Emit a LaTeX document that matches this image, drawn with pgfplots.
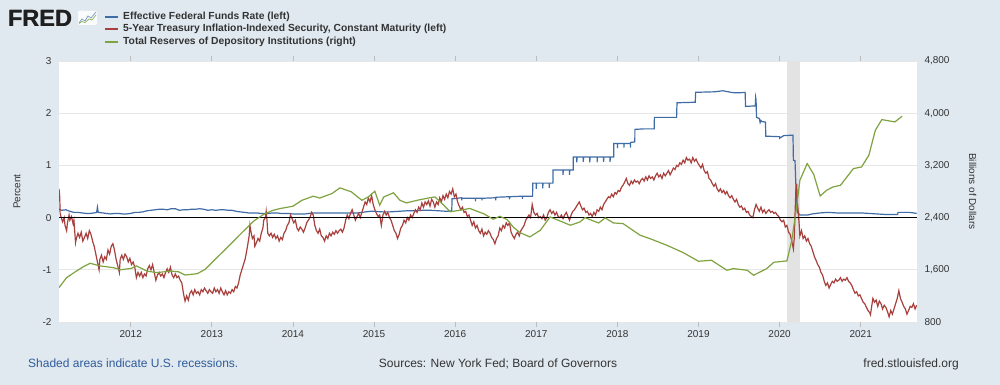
\documentclass[border=0pt]{standalone}
\usepackage{fontspec}
\setmainfont{Liberation Sans}
\usepackage{pgfplots}
\pgfplotsset{compat=1.18}
\definecolor{bg}{HTML}{E1E9F0}
\definecolor{fblue}{HTML}{3F6CA5}
\definecolor{tipsred}{HTML}{A8403D}
\definecolor{fgreen}{HTML}{7FA33F}
\definecolor{gridc}{HTML}{E6E6E6}
\definecolor{txt}{HTML}{333333}
\definecolor{linkc}{HTML}{2F5C9A}
\definecolor{recc}{HTML}{E3E3E3}
\begin{document}
\begin{tikzpicture}[x=1pt,y=1pt]
\useasboundingbox (0,0) rectangle (1000,385);
\fill[bg] (0,0) rectangle (1000,385);
% FRED logo
\foreach \dx in {0,0.5}{
\node[anchor=base west, inner sep=0pt, font=\bfseries\fontsize{23.5}{24}\selectfont, text=black!88] at (7.6+\dx,358.5) {FRED};
}
\fill[white!80!bg, rounded corners=1pt] (78,360) rectangle (97,374);
\draw[fblue!70, line width=0.7pt] (79,362) -- (82,366) -- (85,364) -- (88,369) -- (91,367) -- (96,373);
\draw[fgreen!85, line width=0.7pt] (79,361.5) -- (82,363.5) -- (85,362.5) -- (89,366) -- (92,365) -- (96,370);
% legend
\fill[fblue] (105,367) rectangle (118,369);
\fill[tipsred] (105,355) rectangle (118,357);
\fill[fgreen] (105,342) rectangle (118,344);
\begin{scope}[every node/.style={anchor=west, inner sep=0pt, font=\bfseries\fontsize{10.3}{12}\selectfont, text=txt}]
\node at (123,368) {Effective Federal Funds Rate (left)};
\node at (123,356) {5-Year Treasury Inflation-Indexed Security, Constant Maturity (left)};
\node at (123,343.3) {Total Reserves of Depository Institutions (right)};
\end{scope}
% footer
\node[anchor=base west, inner sep=0pt, font=\fontsize{12}{14}\selectfont, text=linkc] at (28,17) {Shaded areas indicate U.S. recessions.};
\node[anchor=base, inner sep=0pt, font=\fontsize{12}{14}\selectfont, text=txt] at (498,17) {Sources: New York Fed; Board of Governors};
\node[anchor=base east, inner sep=0pt, font=\fontsize{12}{14}\selectfont, text=txt] at (959,17) {fred.stlouisfed.org};

\begin{axis}[
  at={(59pt,63pt)}, anchor=south west, scale only axis,
  width=858pt, height=261pt,
  xmin=2011.116, xmax=2021.694, ymin=-2, ymax=3,
  axis line style={draw=none},
  axis background/.style={fill=white},
  ymajorgrids, grid style={gridc, line width=0.8pt},
  xtick={2012,2013,2014,2015,2016,2017,2018,2019,2020,2021},
  xticklabels={2012,2013,2014,2015,2016,2017,2018,2019,2020,2021},
  ytick={-2,-1,0,1,2,3},
  tick align=outside, major tick length=5pt,
  xtick style={draw=gridc!60!gray, line width=0.8pt},
  ytick style={draw=none},
  tick label style={font=\fontsize{10}{12}\selectfont, text=txt},
  yticklabel style={xshift=1pt},
  /pgf/number format/assume math mode=true,
  every axis y label/.style={at={(axis description cs:-0.049,0.5)}, rotate=90, anchor=center, font=\fontsize{10}{12}\selectfont, text=txt},
  ylabel={Percent},
  clip=true,
]
\addplot[fill=recc, draw=none] coordinates {(2020.09,-2) (2020.09,3) (2020.25,3) (2020.25,-2)} -- cycle;
% Effective Federal Funds Rate
\addplot[fblue, line width=1.2pt] coordinates {
(2011.116,0.16)(2011.15,0.14)(2011.2,0.15)(2011.25,0.12)(2011.3,0.10)(2011.35,0.10)(2011.4,0.09)(2011.45,0.08)(2011.5,0.08)(2011.55,0.09)(2011.58,0.10)(2011.59,0.20)(2011.60,0.10)(2011.65,0.09)(2011.7,0.08)(2011.75,0.07)(2011.8,0.08)(2011.85,0.08)(2011.9,0.07)(2011.95,0.07)(2012.0,0.08)(2012.05,0.10)(2012.1,0.10)(2012.15,0.11)(2012.2,0.13)(2012.25,0.14)(2012.3,0.15)(2012.35,0.16)(2012.4,0.16)(2012.45,0.15)(2012.5,0.17)(2012.55,0.17)(2012.6,0.14)(2012.65,0.15)(2012.7,0.15)(2012.75,0.16)(2012.8,0.16)(2012.85,0.17)(2012.9,0.16)(2012.95,0.14)(2013.0,0.15)(2013.05,0.14)(2013.1,0.15)(2013.15,0.15)(2013.2,0.14)(2013.25,0.14)(2013.3,0.12)(2013.35,0.11)(2013.4,0.10)(2013.45,0.09)(2013.5,0.09)(2013.55,0.09)(2013.6,0.08)(2013.65,0.08)(2013.7,0.08)(2013.75,0.09)(2013.8,0.09)(2013.85,0.08)(2013.9,0.08)(2013.95,0.08)(2014.0,0.07)(2014.05,0.07)(2014.1,0.07)(2014.15,0.07)(2014.2,0.08)(2014.25,0.09)(2014.3,0.09)(2014.4,0.09)(2014.5,0.09)(2014.6,0.09)(2014.7,0.09)(2014.8,0.09)(2014.85,0.10)(2014.9,0.11)(2014.95,0.12)(2015.0,0.12)(2015.1,0.11)(2015.2,0.11)(2015.3,0.12)(2015.4,0.13)(2015.5,0.13)(2015.6,0.14)(2015.7,0.14)(2015.8,0.13)(2015.9,0.12)(2015.958,0.13)
(2015.962,0.36)(2016.08,0.38)(2016.08,0.33)(2016.083,0.37)(2016.25,0.37)(2016.25,0.31)(2016.253,0.37)(2016.33,0.37)(2016.33,0.33)(2016.333,0.37)(2016.5,0.38)(2016.5,0.33)(2016.503,0.39)(2016.67,0.40)(2016.67,0.35)(2016.673,0.40)(2016.83,0.41)(2016.83,0.36)(2016.833,0.41)(2016.955,0.41)
(2016.956,0.66)(2017.0,0.66)(2017.0,0.55)(2017.003,0.66)(2017.08,0.66)(2017.08,0.56)(2017.083,0.66)(2017.16,0.66)(2017.16,0.57)(2017.163,0.66)(2017.205,0.66)
(2017.206,0.91)(2017.33,0.91)(2017.33,0.82)(2017.333,0.91)(2017.41,0.91)(2017.41,0.82)(2017.413,0.91)(2017.455,0.91)
(2017.456,1.16)(2017.5,1.16)(2017.5,1.06)(2017.503,1.16)(2017.58,1.16)(2017.58,1.07)(2017.583,1.16)(2017.66,1.16)(2017.66,1.06)(2017.663,1.16)(2017.75,1.16)(2017.75,1.06)(2017.753,1.16)(2017.83,1.16)(2017.83,1.07)(2017.833,1.16)(2017.91,1.16)(2017.91,1.07)(2017.913,1.16)(2017.955,1.16)
(2017.956,1.42)(2018.0,1.42)(2018.0,1.33)(2018.003,1.42)(2018.08,1.42)(2018.08,1.34)(2018.083,1.42)(2018.16,1.42)(2018.16,1.34)(2018.163,1.44)(2018.215,1.45)
(2018.216,1.69)(2018.33,1.70)(2018.455,1.70)
(2018.456,1.92)(2018.6,1.92)(2018.73,1.92)
(2018.735,2.20)(2018.96,2.21)(2018.965,2.40)(2019.2,2.41)(2019.3,2.43)(2019.4,2.40)(2019.45,2.39)(2019.5,2.39)(2019.575,2.40)(2019.58,2.13)(2019.70,2.14)(2019.705,2.30)(2019.71,2.25)(2019.715,1.92)(2019.75,1.90)(2019.76,1.82)(2019.77,1.86)(2019.78,1.84)(2019.825,1.83)(2019.83,1.56)(2020.0,1.55)(2020.0,1.52)(2020.05,1.57)(2020.165,1.58)(2020.17,1.10)(2020.19,1.09)(2020.2,0.65)(2020.21,0.25)(2020.22,0.10)(2020.25,0.05)(2020.3,0.05)(2020.35,0.05)(2020.4,0.07)(2020.45,0.08)(2020.5,0.09)(2020.6,0.10)(2020.7,0.09)(2020.8,0.09)(2020.9,0.09)(2021.0,0.09)(2021.1,0.08)(2021.2,0.07)(2021.3,0.06)(2021.4,0.06)(2021.455,0.06)(2021.46,0.10)(2021.6,0.10)(2021.65,0.09)(2021.69,0.08)
};
% 5-Year TIPS
\addplot[tipsred, line width=1.2pt] coordinates {
(2011.116,0.55)(2011.125,0.40)(2011.13,0.08)(2011.14,0.02)(2011.16,-0.08)(2011.18,0.00)(2011.19,-0.15)(2011.21,-0.25)(2011.22,-0.10)(2011.24,0.05)(2011.25,-0.05)(2011.27,0.02)(2011.29,-0.12)(2011.30,-0.05)(2011.32,-0.48)(2011.33,-0.40)(2011.35,-0.30)(2011.37,-0.38)(2011.39,-0.28)(2011.41,-0.45)(2011.43,-0.38)(2011.45,-0.30)(2011.47,-0.40)(2011.49,-0.25)(2011.51,-0.32)(2011.53,-0.45)(2011.55,-0.55)(2011.57,-0.70)(2011.59,-0.85)(2011.61,-1.00)(2011.62,-0.80)(2011.64,-0.72)(2011.66,-0.85)(2011.68,-0.75)(2011.70,-0.80)(2011.72,-0.62)(2011.74,-0.70)(2011.76,-0.55)(2011.78,-0.50)(2011.80,-0.62)(2011.82,-0.80)(2011.84,-0.92)(2011.86,-1.05)(2011.87,-0.80)(2011.89,-0.72)(2011.91,-0.80)(2011.93,-0.70)(2011.95,-0.75)(2011.97,-0.85)(2011.99,-0.78)
(2012.01,-0.90)(2012.03,-0.85)(2012.05,-0.95)(2012.07,-1.15)(2012.09,-1.05)(2012.11,-1.12)(2012.13,-1.05)(2012.15,-1.15)(2012.17,-1.08)(2012.19,-1.12)(2012.21,-0.98)(2012.23,-0.92)(2012.25,-1.00)(2012.27,-0.90)(2012.29,-1.05)(2012.31,-1.20)(2012.33,-1.10)(2012.35,-1.05)(2012.37,-1.12)(2012.39,-1.08)(2012.41,-1.15)(2012.43,-1.05)(2012.45,-0.98)(2012.47,-1.05)(2012.49,-0.95)(2012.51,-1.10)(2012.53,-1.15)(2012.55,-1.08)(2012.57,-1.15)(2012.59,-1.12)(2012.61,-1.20)(2012.63,-1.25)(2012.65,-1.45)(2012.67,-1.60)(2012.69,-1.50)(2012.71,-1.58)(2012.73,-1.45)(2012.75,-1.40)(2012.77,-1.48)(2012.79,-1.38)(2012.81,-1.45)(2012.83,-1.42)(2012.85,-1.48)(2012.87,-1.38)(2012.89,-1.42)(2012.91,-1.35)(2012.93,-1.40)(2012.95,-1.45)(2012.97,-1.38)(2012.99,-1.42)
(2013.01,-1.45)(2013.03,-1.35)(2013.05,-1.42)(2013.07,-1.38)(2013.09,-1.45)(2013.11,-1.35)(2013.13,-1.42)(2013.15,-1.48)(2013.17,-1.40)(2013.19,-1.48)(2013.21,-1.42)(2013.23,-1.45)(2013.25,-1.38)(2013.27,-1.42)(2013.29,-1.32)(2013.31,-1.35)(2013.33,-1.25)(2013.35,-1.10)(2013.37,-1.00)(2013.39,-0.90)(2013.41,-0.80)(2013.42,-0.72)(2013.44,-0.55)(2013.46,-0.35)(2013.47,-0.15)(2013.48,-0.25)(2013.50,-0.40)(2013.52,-0.35)(2013.53,-0.55)(2013.55,-0.48)(2013.57,-0.40)(2013.59,-0.45)(2013.61,-0.30)(2013.63,-0.20)(2013.64,-0.05)(2013.66,0.00)(2013.67,0.12)(2013.68,-0.05)(2013.69,-0.30)(2013.71,-0.35)(2013.73,-0.30)(2013.75,-0.38)(2013.77,-0.32)(2013.79,-0.40)(2013.81,-0.35)(2013.83,-0.45)(2013.85,-0.38)(2013.87,-0.42)(2013.89,-0.30)(2013.91,-0.25)(2013.93,-0.15)(2013.95,-0.10)(2013.97,0.05)(2013.99,-0.02)
(2014.01,-0.10)(2014.03,-0.05)(2014.05,-0.20)(2014.07,-0.25)(2014.09,-0.18)(2014.11,-0.22)(2014.13,-0.28)(2014.15,-0.20)(2014.17,-0.10)(2014.19,-0.05)(2014.21,0.00)(2014.23,0.10)(2014.25,0.05)(2014.27,-0.15)(2014.29,-0.25)(2014.31,-0.30)(2014.33,-0.22)(2014.35,-0.35)(2014.37,-0.38)(2014.39,-0.45)(2014.41,-0.35)(2014.43,-0.40)(2014.45,-0.30)(2014.47,-0.35)(2014.49,-0.28)(2014.51,-0.32)(2014.53,-0.25)(2014.55,-0.30)(2014.57,-0.25)(2014.59,-0.22)(2014.61,-0.28)(2014.63,-0.20)(2014.65,-0.05)(2014.67,0.05)(2014.69,-0.02)(2014.71,0.08)(2014.73,0.15)(2014.75,0.05)(2014.77,-0.05)(2014.79,0.02)(2014.81,0.08)(2014.83,0.00)(2014.85,0.10)(2014.87,0.20)(2014.89,0.30)(2014.91,0.25)(2014.93,0.38)(2014.95,0.30)(2014.97,0.42)(2014.99,0.25)
(2015.01,0.15)(2015.03,0.08)(2015.05,0.02)(2015.07,0.05)(2015.09,-0.15)(2015.11,0.05)(2015.13,0.12)(2015.15,0.05)(2015.17,0.10)(2015.19,0.00)(2015.21,-0.05)(2015.23,-0.15)(2015.25,-0.25)(2015.27,-0.30)(2015.29,-0.40)(2015.31,-0.32)(2015.33,-0.20)(2015.35,-0.15)(2015.37,-0.05)(2015.39,-0.10)(2015.41,0.00)(2015.43,-0.05)(2015.45,0.05)(2015.47,0.00)(2015.49,0.08)(2015.51,0.15)(2015.53,0.10)(2015.55,0.20)(2015.57,0.15)(2015.59,0.28)(2015.61,0.20)(2015.63,0.30)(2015.65,0.25)(2015.67,0.32)(2015.69,0.22)(2015.71,0.35)(2015.73,0.30)(2015.75,0.20)(2015.77,0.30)(2015.79,0.25)(2015.81,0.38)(2015.83,0.30)(2015.85,0.42)(2015.87,0.35)(2015.89,0.45)(2015.91,0.38)(2015.93,0.50)(2015.95,0.45)(2015.97,0.55)(2015.99,0.40)
(2016.01,0.45)(2016.03,0.30)(2016.05,0.22)(2016.07,0.15)(2016.09,0.20)(2016.11,0.10)(2016.13,0.12)(2016.15,0.02)(2016.17,0.05)(2016.19,-0.05)(2016.21,-0.15)(2016.23,-0.08)(2016.25,-0.20)(2016.27,-0.15)(2016.29,-0.25)(2016.31,-0.30)(2016.33,-0.22)(2016.35,-0.35)(2016.37,-0.28)(2016.39,-0.32)(2016.41,-0.25)(2016.43,-0.30)(2016.45,-0.38)(2016.47,-0.42)(2016.49,-0.50)(2016.51,-0.40)(2016.53,-0.35)(2016.55,-0.20)(2016.57,-0.25)(2016.59,-0.15)(2016.61,-0.20)(2016.63,-0.10)(2016.65,-0.15)(2016.67,-0.10)(2016.69,-0.28)(2016.71,-0.35)(2016.73,-0.40)(2016.75,-0.32)(2016.77,-0.28)(2016.79,-0.35)(2016.81,-0.25)(2016.83,-0.20)(2016.85,-0.15)(2016.87,-0.05)(2016.89,0.00)(2016.91,0.05)(2016.93,0.00)(2016.95,0.25)(2016.97,0.10)(2016.99,0.05)
(2017.01,0.08)(2017.03,0.00)(2017.05,0.02)(2017.07,-0.02)(2017.09,0.05)(2017.11,-0.05)(2017.13,0.00)(2017.15,0.10)(2017.17,0.15)(2017.19,0.08)(2017.21,0.12)(2017.23,0.05)(2017.25,0.10)(2017.27,0.02)(2017.29,0.00)(2017.31,0.05)(2017.33,-0.02)(2017.35,0.05)(2017.37,0.10)(2017.39,0.02)(2017.41,-0.05)(2017.43,0.05)(2017.45,0.12)(2017.47,0.15)(2017.49,0.20)(2017.51,0.25)(2017.53,0.30)(2017.55,0.22)(2017.57,0.15)(2017.59,0.18)(2017.61,0.10)(2017.63,0.12)(2017.65,0.05)(2017.67,0.08)(2017.69,0.02)(2017.71,0.10)(2017.73,0.05)(2017.75,0.15)(2017.77,0.12)(2017.79,0.20)(2017.81,0.15)(2017.83,0.25)(2017.85,0.30)(2017.87,0.35)(2017.89,0.40)(2017.91,0.38)(2017.93,0.45)(2017.95,0.40)(2017.97,0.48)(2017.99,0.45)
(2018.01,0.52)(2018.03,0.50)(2018.05,0.58)(2018.07,0.62)(2018.09,0.68)(2018.11,0.75)(2018.13,0.65)(2018.15,0.62)(2018.17,0.70)(2018.19,0.65)(2018.21,0.72)(2018.23,0.68)(2018.25,0.70)(2018.27,0.65)(2018.29,0.72)(2018.31,0.75)(2018.33,0.70)(2018.35,0.78)(2018.37,0.72)(2018.39,0.80)(2018.41,0.75)(2018.43,0.78)(2018.45,0.72)(2018.47,0.80)(2018.49,0.85)(2018.51,0.78)(2018.53,0.82)(2018.55,0.75)(2018.57,0.85)(2018.59,0.80)(2018.61,0.85)(2018.63,0.90)(2018.65,0.82)(2018.67,0.88)(2018.69,0.95)(2018.71,0.92)(2018.73,1.00)(2018.75,0.98)(2018.77,1.05)(2018.79,1.02)(2018.81,1.10)(2018.83,1.05)(2018.85,1.15)(2018.87,1.10)(2018.89,1.12)(2018.91,1.05)(2018.93,1.15)(2018.95,1.08)(2018.97,1.12)(2018.99,1.05)
(2019.01,1.00)(2019.03,0.95)(2019.05,1.02)(2019.07,0.90)(2019.09,0.85)(2019.11,0.88)(2019.13,0.75)(2019.15,0.72)(2019.17,0.65)(2019.19,0.60)(2019.21,0.65)(2019.23,0.55)(2019.25,0.50)(2019.27,0.55)(2019.29,0.48)(2019.31,0.52)(2019.33,0.45)(2019.35,0.50)(2019.37,0.42)(2019.39,0.38)(2019.41,0.42)(2019.43,0.35)(2019.45,0.30)(2019.47,0.35)(2019.49,0.25)(2019.51,0.20)(2019.53,0.22)(2019.55,0.15)(2019.57,0.18)(2019.59,0.10)(2019.61,0.12)(2019.63,0.05)(2019.65,0.02)(2019.67,0.00)(2019.69,0.15)(2019.71,0.25)(2019.73,0.18)(2019.75,0.12)(2019.77,0.20)(2019.79,0.10)(2019.81,0.15)(2019.83,0.08)(2019.85,0.12)(2019.87,0.15)(2019.89,0.10)(2019.91,0.12)(2019.93,0.08)(2019.95,0.10)(2019.97,0.05)(2019.99,0.02)
(2020.01,-0.05)(2020.03,-0.08)(2020.05,-0.05)(2020.07,-0.18)(2020.09,-0.15)(2020.11,-0.28)(2020.13,-0.32)(2020.15,-0.45)(2020.17,-0.60)(2020.18,-0.40)(2020.19,0.05)(2020.20,0.50)(2020.21,0.65)(2020.22,0.30)(2020.23,0.10)(2020.24,-0.10)(2020.25,-0.35)(2020.27,-0.25)(2020.29,-0.40)(2020.31,-0.35)(2020.33,-0.45)(2020.35,-0.40)(2020.37,-0.50)(2020.39,-0.55)(2020.41,-0.65)(2020.43,-0.75)(2020.45,-0.82)(2020.47,-0.90)(2020.49,-0.95)(2020.51,-1.05)(2020.53,-1.10)(2020.55,-1.22)(2020.57,-1.30)(2020.59,-1.25)(2020.61,-1.35)(2020.63,-1.28)(2020.65,-1.22)(2020.67,-1.25)(2020.69,-1.18)(2020.71,-1.22)(2020.73,-1.20)(2020.75,-1.15)(2020.77,-1.22)(2020.79,-1.18)(2020.81,-1.20)(2020.83,-1.15)(2020.85,-1.22)(2020.87,-1.25)(2020.89,-1.30)(2020.91,-1.38)(2020.93,-1.45)(2020.95,-1.42)(2020.97,-1.50)(2020.99,-1.48)
(2021.01,-1.55)(2021.03,-1.62)(2021.05,-1.65)(2021.07,-1.72)(2021.09,-1.78)(2021.11,-1.82)(2021.12,-1.86)(2021.14,-1.65)(2021.15,-1.55)(2021.17,-1.62)(2021.19,-1.58)(2021.21,-1.70)(2021.23,-1.60)(2021.25,-1.65)(2021.27,-1.75)(2021.29,-1.68)(2021.31,-1.72)(2021.33,-1.80)(2021.35,-1.90)(2021.37,-1.78)(2021.39,-1.85)(2021.41,-1.75)(2021.43,-1.65)(2021.45,-1.55)(2021.47,-1.40)(2021.49,-1.55)(2021.51,-1.62)(2021.53,-1.70)(2021.55,-1.75)(2021.57,-1.85)(2021.59,-1.78)(2021.61,-1.70)(2021.63,-1.72)(2021.65,-1.65)(2021.67,-1.75)(2021.69,-1.68)
};
\addplot[black, line width=1.3pt] coordinates {(2011.116,0) (2021.694,0)};
\end{axis}

\begin{axis}[
  at={(59pt,63pt)}, anchor=south west, scale only axis,
  width=858pt, height=261pt,
  xmin=2011.116, xmax=2021.694, ymin=800, ymax=4800,
  axis x line=none, axis y line*=right,
  axis line style={draw=none},
  ytick={800,1600,2400,3200,4000,4800},
  ytick style={draw=none},
  tick align=outside, major tick length=5pt,
  scaled y ticks=false,
  tick label style={font=\fontsize{10}{12}\selectfont, text=txt},
  yticklabel style={/pgf/number format/1000 sep={,}, xshift=-1pt},
  /pgf/number format/assume math mode=true,
  every axis y label/.style={at={(axis description cs:1.065,0.5)}, rotate=-90, anchor=center, font=\fontsize{10}{12}\selectfont, text=txt},
  ylabel={Billions of Dollars},
]
\addplot[fgreen, line width=1.2pt] coordinates {
(2011.116,1327)(2011.21,1480)(2011.33,1580)(2011.42,1650)(2011.5,1700)(2011.62,1660)(2011.79,1632)(2011.87,1600)(2012.01,1622)(2012.07,1660)(2012.2,1580)(2012.32,1557)(2012.49,1580)(2012.59,1570)(2012.67,1520)(2012.82,1540)(2012.92,1608)(2013.02,1735)(2013.19,1940)(2013.36,2155)(2013.52,2350)(2013.64,2450)(2013.75,2510)(2013.84,2538)(2014.0,2574)(2014.11,2665)(2014.25,2728)(2014.33,2700)(2014.48,2768)(2014.58,2855)(2014.72,2795)(2014.85,2665)(2014.93,2717)(2015.01,2804)(2015.07,2590)(2015.12,2717)(2015.24,2780)(2015.32,2665)(2015.40,2625)(2015.53,2665)(2015.67,2700)(2015.75,2717)(2015.86,2590)(2015.94,2490)(2016.06,2513)(2016.18,2540)(2016.35,2460)(2016.47,2375)(2016.55,2420)(2016.64,2370)(2016.72,2250)(2016.8,2170)(2016.92,2104)(2017.05,2206)(2017.17,2410)(2017.27,2360)(2017.42,2283)(2017.54,2334)(2017.6,2400)(2017.68,2360)(2017.77,2318)(2017.85,2395)(2017.95,2318)(2018.07,2308)(2018.28,2130)(2018.40,2078)(2018.61,1976)(2018.81,1864)(2019.0,1731)(2019.16,1746)(2019.35,1593)(2019.43,1618)(2019.6,1593)(2019.68,1516)(2019.84,1618)(2019.93,1716)(2020.09,1736)(2020.15,2053)(2020.21,2563)(2020.25,2972)(2020.34,3228)(2020.42,3064)(2020.5,2732)(2020.58,2819)(2020.66,2870)(2020.75,2895)(2020.91,3151)(2021.01,3176)(2021.1,3355)(2021.18,3738)(2021.26,3902)(2021.42,3866)(2021.51,3953)
};
\end{axis}
\end{tikzpicture}
\end{document}
